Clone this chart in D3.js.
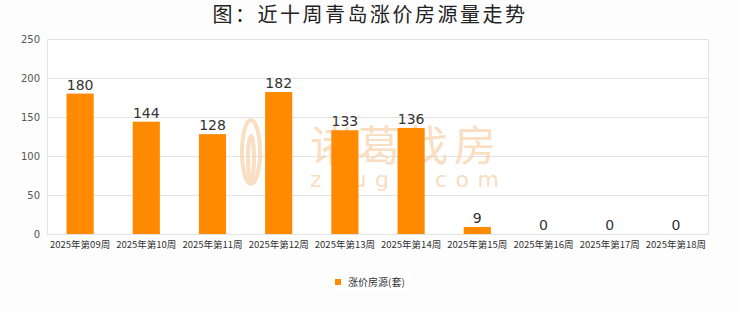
<!DOCTYPE html>
<html>
<head>
<meta charset="utf-8">
<script src="https://cdn.jsdelivr.net/npm/d3@7"></script>
<style>
body{margin:0;background:#fdfdfd;}
svg{display:block;font-family:"Noto Sans CJK SC","Noto Sans",sans-serif;}
</style>
</head>
<body>
<svg id="chart" width="740" height="312"></svg>
<script>
// data
let weeks = ['2025年第09周','2025年第10周','2025年第11周','2025年第12周','2025年第13周','2025年第14周','2025年第15周','2025年第16周','2025年第17周','2025年第18周'];
let counts = [180,144,128,182,133,136,9,0,0,0];
let yTicks = [0,50,100,150,200,250];
let title = '图：近十周青岛涨价房源量走势';
let seriesName = '涨价房源(套)';

let chart = d3.select('#chart');
let ml = 47, mr = 709, mt = 39, mb = 234;
let barColor = '#ff8a00';

let x = d3.scaleBand().domain(weeks).range([ml, mr]).paddingInner(0.59).paddingOuter(0.295);
let y = d3.scaleLinear().domain([0, 250]).range([mb, mt]);

chart.append('text').attr('x', 370).attr('y', 22).attr('text-anchor','middle')
    .attr('font-size', 20).attr('letter-spacing', 2.5).attr('fill','#222').text(title);

// plot bg
chart.append('rect').attr('x', ml).attr('y', mt).attr('width', mr-ml).attr('height', mb-mt).attr('fill','#fff');

// grid
chart.append('g').selectAll('line').data(yTicks).join('line')
    .attr('x1', ml).attr('x2', mr).attr('y1', d=>y(d)+0.5).attr('y2', d=>y(d)+0.5)
    .attr('stroke','#e3e3e3');
chart.append('line').attr('x1', ml+0.5).attr('x2', ml+0.5).attr('y1', mt).attr('y2', mb).attr('stroke','#e3e3e3');
chart.append('line').attr('x1', mr-0.5).attr('x2', mr-0.5).attr('y1', mt).attr('y2', mb).attr('stroke','#e3e3e3');

// watermark (behind bars)
let wm = chart.append('g').attr('fill','#f8d6b4').attr('opacity',0.8);
wm.append('text').attr('x', 310).attr('y', 161).attr('font-size', 42).attr('letter-spacing', 6)
    .attr('font-family','"Noto Sans CJK SC"').text('诸葛找房');
wm.append('text').attr('x', 310).attr('y', 187).attr('font-size', 22)
    .attr('letter-spacing', 8.5).attr('font-family','"DejaVu Sans"').text('zhuge.com');
let leaf = chart.append('g').attr('fill','none').attr('stroke','#f8d6b4').attr('stroke-width', 4).attr('opacity',0.8);
leaf.append('ellipse').attr('cx', 251).attr('cy', 152).attr('rx', 9).attr('ry', 32);
leaf.append('ellipse').attr('cx', 251).attr('cy', 158).attr('rx', 3).attr('ry', 22);

// y axis labels
chart.append('g').selectAll('text').data(yTicks).join('text')
    .attr('x', 40).attr('y', d=>y(d)+4).attr('text-anchor','end')
    .attr('font-size', 10).attr('fill','#555').attr('font-family','"DejaVu Sans"').text(d=>d);

// bars
chart.append('g').selectAll('rect').data(counts).join('rect')
    .attr('x', (d,i)=>x(weeks[i])).attr('width', x.bandwidth())
    .attr('y', d=>y(d)).attr('height', d=>mb-y(d)).attr('fill', barColor);

// value labels
chart.append('g').selectAll('text').data(counts).join('text')
    .attr('x', (d,i)=>x(weeks[i])+x.bandwidth()/2).attr('y', d=>y(d)-4)
    .attr('text-anchor','middle').attr('font-size', 14).attr('fill','#333')
    .attr('font-family','"DejaVu Sans"').text(d=>d);

// x labels
chart.append('g').selectAll('text').data(weeks).join('text')
    .attr('x', d=>x(d)+x.bandwidth()/2).attr('y', 248).attr('text-anchor','middle')
    .attr('font-size', 9.5).attr('fill','#333').text(d=>d);

// legend
let lg = chart.append('g');
lg.append('rect').attr('x', 330).attr('y', 273).attr('width', 80).attr('height', 18).attr('fill','#fff');
lg.append('rect').attr('x', 335).attr('y', 279).attr('width', 6).attr('height', 6).attr('fill', barColor);
lg.append('text').attr('x', 348).attr('y', 286).attr('font-size', 10).attr('fill','#333').text(seriesName);
</script>
</body>
</html>
